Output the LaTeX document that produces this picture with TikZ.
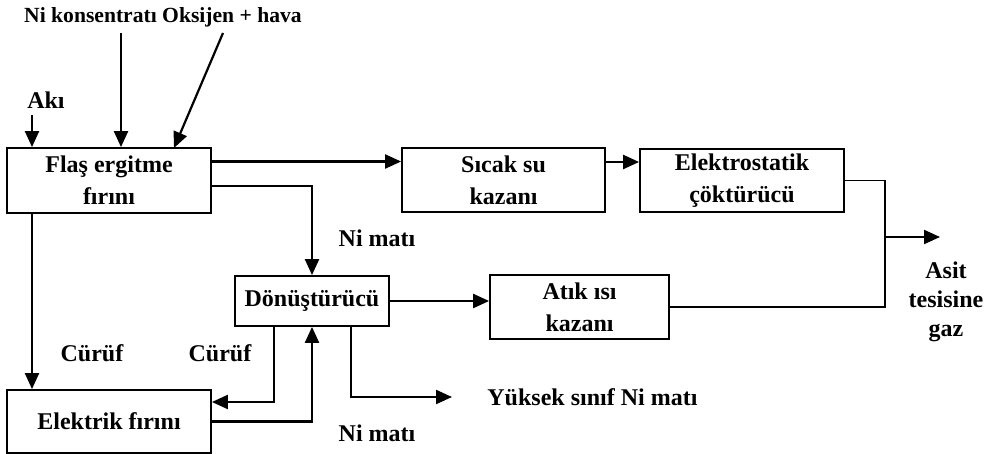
\documentclass[tikz,border=0pt]{standalone}
\usepackage{fontspec}
\setmainfont{Liberation Serif}
\usetikzlibrary{arrows.meta}

\tikzset{
  blok/.style={draw, line width=0.9pt, align=center, inner sep=0pt,
    font=\fontsize{12}{16}\selectfont\bfseries},
  etiket/.style={align=center, inner sep=0pt,
    font=\fontsize{12}{14.5}\selectfont\bfseries},
  ok/.style={line width=1.1pt, -{Triangle[length=8pt,width=7pt]}},
  hat/.style={line width=0.9pt}
}

\begin{document}
\begin{tikzpicture}[x=0.5pt,y=-0.5pt]
\useasboundingbox (0,0) rectangle (989,454);

% boxes
\node[blok, minimum width=102pt, minimum height=32.5pt] (flas) at (109,180.5) {Flaş ergitme\\fırını};
\node[blok, minimum width=101.5pt, minimum height=32pt] (sicak) at (503.5,180) {Sıcak su\\kazanı};
\node[blok, minimum width=102pt, minimum height=31.5pt] (elektro) at (742,180.5) {Elektrostatik\\çöktürücü};
\node[blok, minimum width=77pt, minimum height=25pt] (donus) at (312,301) {Dönüştürücü};
\node[blok, minimum width=89.5pt, minimum height=32pt] (atik) at (579.5,307) {Atık ısı\\kazanı};
\node[blok, minimum width=102pt, minimum height=31.5pt] (elektrik) at (109,421.5) {Elektrik fırını};

% feeds
\coordinate (aki) at (32,115);
\coordinate (konsantre) at (121,33);
\coordinate (oksijen) at (223,33);
\node[etiket] (akiyazi) at (46,100) {Akı};
\node[etiket, font=\fontsize{10.8}{13}\selectfont\bfseries] (girdi) at (163,17) {Ni konsentratı Oksijen + hava};
\draw[ok] (aki) -- (aki |- flas.north);
\draw[ok] (konsantre) -- (konsantre |- flas.north);
\draw[ok] (oksijen) -- (174,148);

% gas line
\draw[ok] ([yshift=9.5pt]flas.east) -- ([yshift=9.5pt]flas.east -| sicak.west);
\draw[ok] ([yshift=9pt]sicak.east) -- ([yshift=9pt]sicak.east -| elektro.west);
\coordinate (bus) at (885,237);
\coordinate (gaz) at (940,237);
\draw[hat] (elektro.east) -| (bus) |- (atik.east);
\draw[ok] (bus) -- (gaz);
\node[etiket] (asit) at (946,302) {Asit\\tesisine\\gaz};
\draw[ok] (donus.east) -- (donus.east -| atik.west);

% matte and slag
\draw[ok] ([yshift=-2.75pt]flas.east) -| (donus.north);
\node[etiket] (nimati1) at (377,238) {Ni matı};
\draw[ok] (aki |- flas.south) -- (aki |- elektrik.north);
\node[etiket] (curuf1) at (92,353) {Cürüf};
\draw[ok] ([xshift=-19pt]donus.south) |- ([yshift=9.75pt]elektrik.east);
\node[etiket] (curuf2) at (220,353) {Cürüf};
\draw[ok] (elektrik.east) -| (donus.south);
\node[etiket] (nimati2) at (377,433) {Ni matı};
\coordinate (yuksek) at (452,397);
\draw[ok] ([xshift=19.5pt]donus.south) |- (yuksek);
\node[etiket, anchor=west] (yuksekyazi) at (487,397) {Yüksek sınıf Ni matı};
\end{tikzpicture}
\end{document}
